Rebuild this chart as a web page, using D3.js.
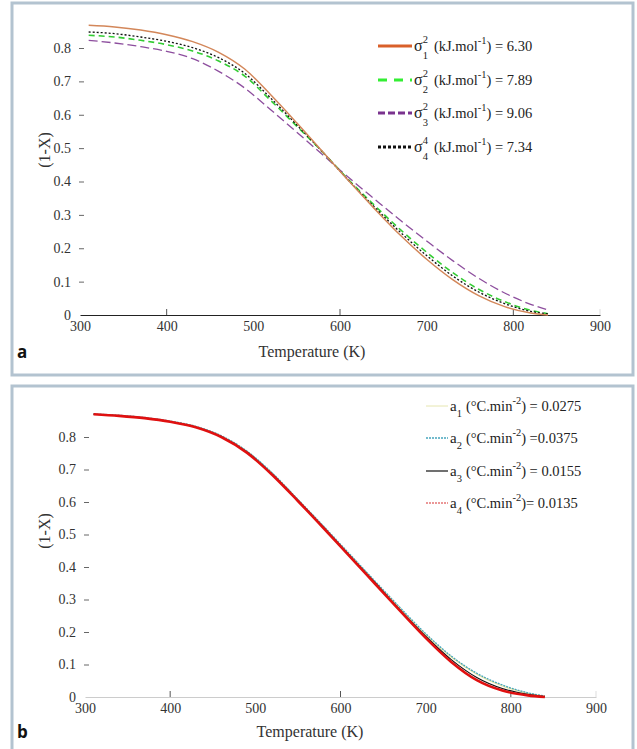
<!DOCTYPE html>
<html>
<head>
<meta charset="utf-8">
<script src="https://cdn.jsdelivr.net/npm/d3@7"></script>
<style>
  html, body { margin: 0; padding: 0; background: #fff; }
  svg { display: block; }
  svg text { font-family: "Liberation Serif", "Times New Roman", Tinos, "DejaVu Serif", serif; }
  .tick text { font-size: 14px; fill: #333; }
</style>
</head>
<body>
<svg id="chart" width="637" height="749"></svg>
<script>
// ---- data -------------------------------------------------------------
const temps = [310, 340, 370, 400, 430, 460, 490, 520, 550, 580, 610, 640, 670, 700, 730, 760, 790, 820, 840];

// panel a: effect of the distribution width
const sigma1 = [0.868, 0.863, 0.854, 0.840, 0.819, 0.787, 0.737, 0.660, 0.576, 0.489, 0.402, 0.318, 0.238, 0.167, 0.106, 0.058, 0.025, 0.006, 0.000];
const sigma2 = [0.838, 0.833, 0.823, 0.810, 0.791, 0.761, 0.716, 0.643, 0.566, 0.488, 0.405, 0.328, 0.255, 0.188, 0.127, 0.077, 0.040, 0.014, 0.004];
const sigma3 = [0.823, 0.815, 0.804, 0.790, 0.768, 0.730, 0.680, 0.615, 0.548, 0.480, 0.412, 0.347, 0.283, 0.222, 0.163, 0.110, 0.066, 0.032, 0.015];
const sigma4 = [0.848, 0.843, 0.833, 0.820, 0.801, 0.771, 0.724, 0.650, 0.570, 0.488, 0.403, 0.323, 0.247, 0.178, 0.117, 0.069, 0.034, 0.011, 0.003];
const sigmaLabels = [
  { sup: "2", sub: "1", value: "6.30" },
  { sup: "2", sub: "2", value: "7.89" },
  { sup: "2", sub: "3", value: "9.06" },
  { sup: "4", sub: "4", value: "7.34" }
];

// panel b: effect of the heating-rate coefficient
const a1 = [0.870, 0.866, 0.859, 0.848, 0.832, 0.803, 0.756, 0.688, 0.607, 0.524, 0.440, 0.356, 0.272, 0.192, 0.123, 0.070, 0.034, 0.011, 0.002];
const a2 = [0.871, 0.867, 0.860, 0.849, 0.833, 0.804, 0.757, 0.689, 0.608, 0.526, 0.442, 0.358, 0.275, 0.195, 0.126, 0.073, 0.037, 0.013, 0.003];
const a3 = [0.870, 0.865, 0.858, 0.847, 0.830, 0.801, 0.754, 0.685, 0.605, 0.522, 0.437, 0.353, 0.268, 0.187, 0.115, 0.060, 0.026, 0.008, 0.001];
const a4 = [0.870, 0.865, 0.858, 0.847, 0.830, 0.800, 0.752, 0.683, 0.603, 0.520, 0.435, 0.350, 0.265, 0.182, 0.108, 0.052, 0.020, 0.005, 0.000];
const aLabels = [
  { sub: "1", value: "  = 0.0275" },
  { sub: "2", value: " =0.0375" },
  { sub: "3", value: " = 0.0155" },
  { sub: "4", value: "= 0.0135" }
];

const xTicks = [300, 400, 500, 600, 700, 800, 900];
const xMarks = [400, 600, 800, 900];
const yTicks = [0, 0.1, 0.2, 0.3, 0.4, 0.5, 0.6, 0.7, 0.8];

// ---- drawing ----------------------------------------------------------
const svg = d3.select("#chart");
const fmtY = v => v === 0 ? "0" : d3.format(".1f")(v);

function panel(cfg) {
  const g = svg.append("g");
  g.append("rect")
    .attr("x", cfg.box[0]).attr("y", cfg.box[1])
    .attr("width", cfg.box[2]).attr("height", cfg.box[3])
    .attr("fill", "#fff").attr("stroke", "#b3c3d0").attr("stroke-width", 3);

  const x = d3.scaleLinear().domain([300, 900]).range(cfg.xr);
  const y = d3.scaleLinear().domain([0, 0.8]).range(cfg.yr);

  // y axis: labels with short inward ticks, no spine
  const ya = g.append("g").attr("transform", `translate(${cfg.xr[0]},0)`)
    .call(d3.axisLeft(y).tickValues(yTicks).tickFormat(fmtY).tickSizeInner(-5).tickSizeOuter(0).tickPadding(9));
  ya.attr("font-family", null);
  ya.select(".domain").remove();
  ya.selectAll(".tick line").attr("stroke", "#666").attr("transform", "translate(-1,0)");
  ya.selectAll(".tick").filter(d => d === 0).select("line").remove();

  // x axis line with tick labels below
  const xa = g.append("g").attr("transform", `translate(0,${cfg.yr[0]})`)
    .call(d3.axisBottom(x).tickValues(xTicks).tickSize(0).tickPadding(6));
  xa.attr("font-family", null);
  xa.select(".domain").attr("stroke", cfg.axisColor).attr("stroke-width", 1.2);
  g.selectAll(".xmark").data(xMarks).join("line")
    .attr("x1", d => x(d)).attr("x2", d => x(d))
    .attr("y1", cfg.yr[0]).attr("y2", cfg.yr[0] - 6)
    .attr("stroke", d => d === 900 ? "#ddd" : "#555").attr("stroke-width", 1);

  g.append("text").attr("x", cfg.xLabel[0]).attr("y", cfg.xLabel[1])
    .attr("text-anchor", "middle").attr("font-size", 16).attr("fill", "#333")
    .text("Temperature (K)");
  g.append("text").attr("transform", `translate(${cfg.yLabel[0]},${cfg.yLabel[1]}) rotate(-90)`)
    .attr("text-anchor", "middle").attr("font-size", 16).attr("fill", "#333")
    .text("(1-X)");
  g.append("text").attr("x", cfg.tag[0]).attr("y", cfg.tag[1])
    .style("font-family", '"Open Sans", "Noto Sans", sans-serif').attr("font-weight", 700)
    .attr("font-size", 17).attr("fill", "#111").text(cfg.tagText);

  const line = d3.line().x((d, i) => x(temps[i])).y(d => y(d)).curve(d3.curveMonotoneX);
  cfg.series.forEach(s => {
    g.append("path").datum(s.values).attr("d", line)
      .attr("fill", "none").attr("stroke", s.color).attr("stroke-width", s.width)
      .attr("stroke-dasharray", s.dash || null);
  });
  return g;
}

// text run helper: returns advance width
function run(g, x, y, str, size) {
  const t = g.append("text").attr("x", x).attr("y", y)
    .attr("font-size", size).attr("fill", "#222").text(str);
  return t.node().getComputedTextLength();
}

// ---- panel a ----
const ga = panel({
  box: [12, 3, 621, 372],
  xr: [80, 600], yr: [315, 48],
  axisColor: "#222",
  xLabel: [312, 357], yLabel: [50, 150],
  tag: [17, 358], tagText: "a",
  series: [
    { values: sigma3, color: "#8d4e9e", width: 1.3, dash: "9,4" },
    { values: sigma2, color: "#33cc33", width: 1.6, dash: "6,4" },
    { values: sigma4, color: "#111", width: 1.3, dash: "2,2" },
    { values: sigma1, color: "#d3875a", width: 1.5 }
  ]
});

const legA = [
  { color: "#d9602a", width: 3.2, dash: null },
  { color: "#33ee33", width: 2.8, dash: "9,7" },
  { color: "#7a338e", width: 2.8, dash: "7,3" },
  { color: "#111", width: 3, dash: "3,2" }
];
const legAy = [46, 80, 113, 147];
sigmaLabels.forEach((lab, i) => {
  const yy = legAy[i];
  const st = legA[i];
  ga.append("line").attr("x1", 378).attr("x2", 412).attr("y1", yy).attr("y2", yy)
    .attr("stroke", st.color).attr("stroke-width", st.width).attr("stroke-dasharray", st.dash);
  let cx = 414;
  cx += run(ga, cx, yy + 5, "σ", 16);
  const w1 = run(ga, cx, yy - 3, lab.sup, 10.5);
  const w2 = run(ga, cx, yy + 13, lab.sub, 10.5);
  cx += Math.max(w1, w2) + 6;
  cx += run(ga, cx, yy + 5, "(kJ.mol", 14.5);
  cx += run(ga, cx, yy - 2, "-1", 10.5);
  run(ga, cx, yy + 5, ") = " + lab.value, 14.5);
});

// ---- panel b ----
const gb = panel({
  box: [12, 386, 621, 368],
  xr: [85, 596], yr: [697, 437],
  axisColor: "#ccc",
  xLabel: [310, 737], yLabel: [50, 531],
  tag: [17, 738], tagText: "b",
  series: [
    { values: a1, color: "#e6e29a", width: 1.2 },
    { values: a2, color: "#45a5bd", width: 1.3, dash: "2,1" },
    { values: a3, color: "#111", width: 1.2 },
    { values: a4, color: "#e01010", width: 2.6 }
  ]
});

const legB = [
  { color: "#e6e6b0", width: 1, dash: null },
  { color: "#45a5bd", width: 1.3, dash: "2,1" },
  { color: "#111", width: 1.2, dash: null },
  { color: "#d83030", width: 1.2, dash: "2,1" }
];
const legBy = [406, 438, 471, 503];
aLabels.forEach((lab, i) => {
  const yy = legBy[i];
  const st = legB[i];
  gb.append("line").attr("x1", 426).attr("x2", 448).attr("y1", yy).attr("y2", yy)
    .attr("stroke", st.color).attr("stroke-width", st.width).attr("stroke-dasharray", st.dash);
  let cx = 450;
  cx += run(gb, cx, yy + 5, "a", 15);
  cx += run(gb, cx, yy + 11, lab.sub, 10.5) + 4;
  cx += run(gb, cx, yy + 5, "(°C.min", 14.5);
  cx += run(gb, cx, yy - 2, "-2", 10.5);
  run(gb, cx, yy + 5, ")" + lab.value, 14.5);
});
</script>
</body>
</html>
